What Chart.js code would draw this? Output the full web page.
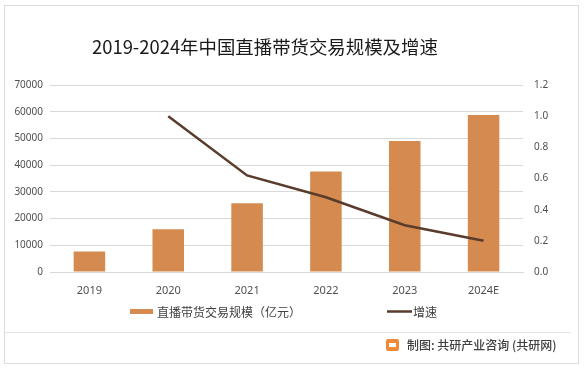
<!DOCTYPE html>
<html>
<head>
<meta charset="utf-8">
<script src="https://cdn.jsdelivr.net/npm/chart.js@4/dist/chart.umd.min.js"></script>
<style>
  html, body { margin: 0; padding: 0; background: #fff; }
  #wrap { position: relative; width: 584px; height: 371px; overflow: hidden; }
  #frame { position: absolute; left: 4px; top: 5px; width: 573px; height: 357px; border: 1px solid #dcdcdc; }
  #sep { position: absolute; left: 5px; top: 332px; width: 566px; height: 1px; background: #e3e3e3; }
  #title { position: absolute; left: 92px; top: 37px; font: 18px/18px "Noto Sans CJK SC", sans-serif; color: #1a1a1a; white-space: nowrap; }
  #source { position: absolute; left: 386px; top: 338px; font: 500 12px/14px "Noto Sans CJK SC", sans-serif; color: #404040; white-space: nowrap; }
  #logo { display: inline-block; width: 13px; height: 12px; background: #ee8a3a; border-radius: 2px; vertical-align: -1px; margin-right: 8px; position: relative; }
  #logo:after { content: ""; position: absolute; left: 3px; top: 4px; width: 7px; height: 4px; background: #fff; }
  canvas { position: absolute; left: 0; top: 0; }
</style>
</head>
<body>
<div id="wrap">
  <div id="frame"></div>
  <div id="sep"></div>
  <canvas id="chart" width="584" height="371"></canvas>
  <div id="title">2019-2024年中国直播带货交易规模及增速</div>
  <div id="source"><span id="logo"></span>制图: 共研产业咨询 (共研网)</div>
</div>
<script>
// data
const years = ['2019', '2020', '2021', '2022', '2023', '2024E'];
const scaleValues = [7700, 16000, 25700, 37600, 49000, 58800];   // 亿元
const growthValues = [null, 1.0, 0.62, 0.48, 0.3, 0.2];

const barColor = 'rgb(213,139,79)';
const lineColor = 'rgb(89,60,44)';
const tickColor = '#505050';

// size the title so it spans the same width as in the reference (~346px)
(function fitTitle() {
  const el = document.getElementById('title');
  const c = document.createElement('canvas').getContext('2d');
  c.font = '18px "Noto Sans CJK SC"';
  const w = c.measureText(el.textContent).width;
  const size = 18 * 346 / w;
  el.style.fontSize = size + 'px';
  el.style.lineHeight = size + 'px';
  el.style.top = (46.5 - size / 2) + 'px';
})();

// legend drawn by hand so the swatches match the Excel-style legend
const legendPlugin = {
  id: 'excelLegend',
  afterDraw(chart) {
    const ctx = chart.ctx;
    const ds = chart.data.datasets;
    ctx.save();
    ctx.font = '12px "Noto Sans CJK SC", sans-serif';
    ctx.textBaseline = 'middle';
    ctx.fillStyle = ds[0].backgroundColor;
    ctx.fillRect(130, 309, 23, 5);
    ctx.fillStyle = '#404040';
    ctx.fillText(ds[0].label, 157, 312);
    ctx.strokeStyle = ds[1].borderColor;
    ctx.lineWidth = 2.5;
    ctx.beginPath();
    ctx.moveTo(387, 311.5);
    ctx.lineTo(412, 311.5);
    ctx.stroke();
    ctx.fillText(ds[1].label, 413, 312);
    ctx.restore();
  }
};

const ctx = document.getElementById('chart').getContext('2d');
const chart = new Chart(ctx, {
  type: 'bar',
  data: {
    labels: years,
    datasets: [
      {
        type: 'bar',
        label: '直播带货交易规模（亿元）',
        data: scaleValues,
        backgroundColor: barColor,
        yAxisID: 'y',
        categoryPercentage: 1.0,
        barPercentage: 0.4,
        order: 2
      },
      {
        type: 'line',
        label: '增速',
        data: growthValues,
        borderColor: lineColor,
        borderWidth: 2.5,
        pointRadius: 0,
        tension: 0,
        fill: false,
        yAxisID: 'y1',
        order: 1
      }
    ]
  },
  options: {
    responsive: false,
    animation: false,
    devicePixelRatio: 1,
    layout: { padding: { top: 85, left: 0, right: 0, bottom: 69 } },
    plugins: {
      legend: { display: false },
      title: { display: false },
      tooltip: { enabled: false }
    },
    scales: {
      x: {
        grid: { display: false, drawTicks: false },
        border: { color: '#d9d9d9' },
        ticks: { color: tickColor, font: { family: 'Noto Sans', size: 11 }, padding: 12 },
        afterFit(scale) { scale.height = 30; }
      },
      y: {
        position: 'left',
        min: 0,
        max: 70000,
        ticks: {
          stepSize: 10000,
          color: tickColor,
          font: { family: 'Noto Sans', size: 10 },
          padding: 7,
          callback: v => String(v)
        },
        grid: { color: '#d9d9d9', drawTicks: false },
        border: { display: false },
        afterFit(scale) { scale.width = 50; }
      },
      y1: {
        position: 'right',
        min: 0,
        max: 1.2,
        ticks: {
          stepSize: 0.2,
          color: tickColor,
          font: { family: 'Noto Sans', size: 10 },
          padding: 11,
          callback: v => v.toFixed(1)
        },
        grid: { display: false, drawTicks: false },
        border: { display: false },
        afterFit(scale) { scale.width = 61; }
      }
    }
  },
  plugins: [legendPlugin]
});
</script>
</body>
</html>
